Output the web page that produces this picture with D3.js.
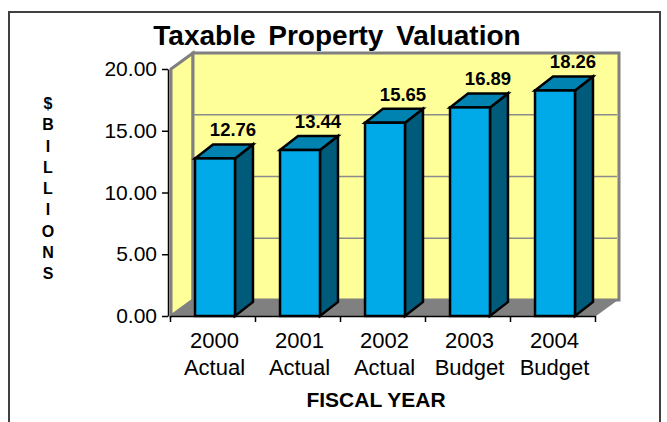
<!DOCTYPE html>
<html>
<head>
<meta charset="utf-8">
<script src="https://cdn.jsdelivr.net/npm/d3@7"></script>
<style>
  body { margin: 0; background: #fff; }
  svg { display: block; font-family: Arial, "Liberation Sans", sans-serif; }
</style>
</head>
<body>
<svg width="667" height="422"></svg>
<script>
const years = ["2000", "2001", "2002", "2003", "2004"];
const kinds = ["Actual", "Actual", "Actual", "Budget", "Budget"];
const values = [12.76, 13.44, 15.65, 16.89, 18.26];
const yTicks = [0, 5, 10, 15, 20];
const yTitle = ["$", "B", "I", "L", "L", "I", "O", "N", "S"];

const svg = d3.select("svg");

// outer frame
svg.append("rect")
  .attr("x", 9).attr("y", 12)
  .attr("width", 651).attr("height", 420)
  .attr("fill", "none")
  .attr("stroke", "#404040")
  .attr("stroke-width", 2);

const left = 170, right = 595;
const depthX = 22, depthY = -16;   // back wall offset
const barDX = 18, barDY = -14;     // bar depth

const y = d3.scaleLinear().domain([0, 20]).range([316, 69]);
const x = d3.scaleBand().domain(years).range([left, right])
  .paddingInner(0.53).paddingOuter(0.265);
const xEdge = d3.scaleLinear().domain([0, years.length]).range([left, right]);

// left wall
svg.append("polygon")
  .attr("points", [[left + 1, y(20)], [left + 1 + depthX, y(20) + depthY],
    [left + 1 + depthX, y(0) + depthY], [left + 1, y(0)]].join(" "))
  .attr("fill", "#ffff99")
  .attr("stroke", "#808080")
  .attr("stroke-width", 3);

// back wall
svg.append("rect")
  .attr("x", left + 1 + depthX).attr("y", y(20) + depthY)
  .attr("width", right - left + 1).attr("height", y(0) - y(20))
  .attr("fill", "#ffff99")
  .attr("stroke", "#808080")
  .attr("stroke-width", 3);

// floor
svg.append("polygon")
  .attr("points", [[left + 1, y(0)], [right + 1, y(0)],
    [right + 1 + depthX, y(0) + depthY], [left + 1 + depthX, y(0) + depthY]].join(" "))
  .attr("fill", "#808080");

// gridlines on back wall
svg.append("g")
  .selectAll("line")
  .data(yTicks.filter(d => d > 0 && d < 20))
  .enter()
  .append("line")
  .attr("x1", left + 2 + depthX).attr("x2", right + depthX)
  .attr("y1", d => y(d) + depthY).attr("y2", d => y(d) + depthY)
  .attr("stroke", "#8c8c8c")
  .attr("stroke-width", 1.5);

// y axis
const yAxis = d3.axisLeft(y).tickValues(yTicks).tickFormat(d3.format(".2f"))
  .tickSize(6).tickSizeOuter(0).tickPadding(5);
const gy = svg.append("g")
  .attr("transform", "translate(168,0)")
  .call(yAxis);
gy.select(".domain").attr("stroke", "#000").attr("stroke-width", 1.5);
gy.selectAll(".tick line").attr("stroke", "#000").attr("stroke-width", 1.5);
gy.selectAll("text")
  .attr("font-size", "21px")
  .attr("font-family", "Arial, 'Liberation Sans', sans-serif")
  .attr("fill", "#000");

// x axis
const xAxis = d3.axisBottom(xEdge).tickValues(d3.range(years.length + 1))
  .tickFormat("").tickSize(6).tickSizeOuter(0);
const gx = svg.append("g")
  .attr("transform", `translate(0,${y(0)})`)
  .call(xAxis);
gx.select(".domain").attr("stroke", "#000").attr("stroke-width", 1.5);
gx.selectAll(".tick line").attr("stroke", "#000").attr("stroke-width", 1.5);

// bars
const bars = svg.append("g")
  .selectAll("g")
  .data(values)
  .enter()
  .append("g")
  .attr("class", "bar3d");

const bx = (d, i) => x(years[i]) + 2.5;
const bw = x.bandwidth();

bars.append("polygon") // side
  .attr("points", (d, i) => [[bx(d, i) + bw, y(d)], [bx(d, i) + bw + barDX, y(d) + barDY],
    [bx(d, i) + bw + barDX, y(0) + barDY], [bx(d, i) + bw, y(0)]].join(" "))
  .attr("fill", "#005a7a");

bars.append("polygon") // top
  .attr("points", (d, i) => [[bx(d, i), y(d)], [bx(d, i) + barDX, y(d) + barDY],
    [bx(d, i) + bw + barDX, y(d) + barDY], [bx(d, i) + bw, y(d)]].join(" "))
  .attr("fill", "#0083b0");

bars.append("rect") // front
  .attr("x", bx)
  .attr("y", d => y(d))
  .attr("width", bw)
  .attr("height", d => y(0) - y(d))
  .attr("fill", "#00aae8");

bars.selectAll("polygon, rect")
  .attr("stroke", "#000")
  .attr("stroke-width", 2.5)
  .attr("stroke-linejoin", "miter");

// value labels
svg.append("g")
  .selectAll("text")
  .data(values)
  .enter()
  .append("text")
  .attr("x", (d, i) => bx(d, i) + bw / 2 + 18)
  .attr("y", d => y(d) - 22)
  .attr("text-anchor", "middle")
  .attr("font-size", "18.5px")
  .attr("font-weight", "bold")
  .text(d => d.toFixed(2));

// category labels
const cats = svg.append("g")
  .selectAll("text")
  .data(years)
  .enter()
  .append("text")
  .attr("text-anchor", "middle")
  .attr("font-size", "22px");
cats.append("tspan")
  .attr("x", d => x(d) + bw / 2 + 2)
  .attr("y", 348)
  .text(d => d);
cats.append("tspan")
  .attr("x", d => x(d) + bw / 2 + 2)
  .attr("y", 375)
  .text((d, i) => kinds[i]);

// titles
svg.append("text")
  .attr("x", 337).attr("y", 45)
  .attr("text-anchor", "middle")
  .attr("font-size", "28px")
  .attr("font-weight", "bold")
  .attr("word-spacing", "5px")
  .text("Taxable Property Valuation");

svg.append("text")
  .attr("x", 376).attr("y", 407)
  .attr("text-anchor", "middle")
  .attr("font-size", "21px")
  .attr("font-weight", "bold")
  .text("FISCAL YEAR");

svg.append("g")
  .selectAll("text")
  .data(yTitle)
  .enter()
  .append("text")
  .attr("x", 48)
  .attr("y", (d, i) => 109 + i * 21.25)
  .attr("text-anchor", "middle")
  .attr("font-size", "16px")
  .attr("font-weight", "bold")
  .text(d => d);
</script>
</body>
</html>
